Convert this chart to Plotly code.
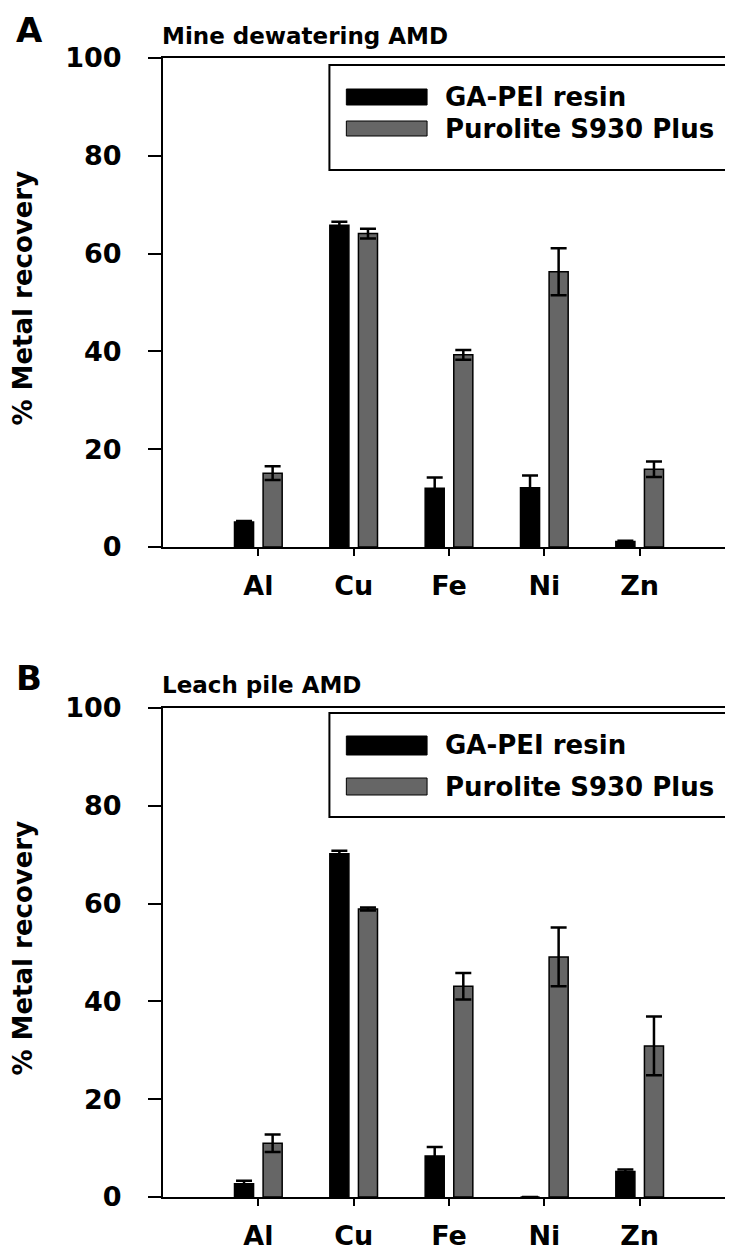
import plotly.graph_objects as go

metals = ["Al", "Cu", "Fe", "Ni", "Zn"]
series_names = ["GA-PEI resin", "Purolite S930 Plus"]

# Panel A: Mine dewatering AMD
a_gapei = [5.1, 65.8, 12.0, 12.1, 1.1]
a_gapei_err = [0.2, 0.7, 2.2, 2.5, 0.2]
a_purolite = [15.1, 64.1, 39.3, 56.3, 15.9]
a_purolite_err = [1.4, 1.0, 1.0, 4.8, 1.6]

# Panel B: Leach pile AMD
b_gapei = [2.7, 70.2, 8.4, 0, 5.2]
b_gapei_err = [0.6, 0.6, 1.8, None, 0.4]
b_purolite = [11.0, 58.9, 43.1, 49.1, 30.9]
b_purolite_err = [1.8, 0.3, 2.7, 6.0, 6.0]

panel_titles = ["Mine dewatering AMD", "Leach pile AMD"]
panel_letters = ["A", "B"]
y_title = "% Metal recovery"
y_ticks = [0, 20, 40, 60, 80, 100]

W, H = 733, 1249
ML, MR, MT, MB = 155, 4, 50, 60
PW = W - ML - MR
PH = H - MT - MB

def px(x):
    return (x - ML) / PW

def py(y):
    return (H - MB - y) / PH

FONT = "DejaVu Sans"
BLACK = "#000000"
GRAY = "#666666"

fig = go.Figure()

panels = [
    ("x", "y", a_gapei, a_gapei_err, a_purolite, a_purolite_err),
    ("x2", "y2", b_gapei, b_gapei_err, b_purolite, b_purolite_err),
]
for xa, ya, g, ge, p, pe in panels:
    fig.add_trace(go.Bar(
        x=metals, y=g, name=series_names[0], xaxis=xa, yaxis=ya,
        marker=dict(color=BLACK, line=dict(color=BLACK, width=1.5)),
        error_y=dict(type="data", array=ge, color=BLACK, thickness=2.5, width=8),
        showlegend=False,
    ))
    fig.add_trace(go.Bar(
        x=metals, y=p, name=series_names[1], xaxis=xa, yaxis=ya,
        marker=dict(color=GRAY, line=dict(color=BLACK, width=1.5)),
        error_y=dict(type="data", array=pe, color=BLACK, thickness=2.5, width=8),
        showlegend=False,
    ))

top_dom = [py(539), 1.0]
bot_dom = [0.0, py(700)]

axis_common_x = dict(
    type="category", range=[-1, 5], showline=True, linecolor=BLACK, linewidth=2,
    mirror=True, ticks="outside", ticklen=7, tickwidth=2, tickcolor=BLACK,
    tickfont=dict(family=FONT, size=27, color=BLACK, weight="bold"),
    ticklabelstandoff=7, showgrid=False, zeroline=False,
)
axis_common_y = dict(
    range=[0, 100], tickvals=y_ticks, showline=True, linecolor=BLACK, linewidth=2,
    mirror=True, ticks="outside", ticklen=13, tickwidth=2, tickcolor=BLACK,
    tickfont=dict(family=FONT, size=27, color=BLACK, weight="bold"),
    ticklabelstandoff=21, showgrid=False, zeroline=False,
)

fig.update_layout(
    width=W, height=H,
    margin=dict(l=ML, r=MR, t=MT, b=MB),
    plot_bgcolor="white", paper_bgcolor="white",
    barmode="group", bargap=0.4, bargroupgap=1/3,
    font=dict(family=FONT, color=BLACK),
    xaxis=dict(axis_common_x, anchor="y", domain=[0, 1]),
    yaxis=dict(axis_common_y, anchor="x", domain=top_dom),
    xaxis2=dict(axis_common_x, anchor="y2", domain=[0, 1]),
    yaxis2=dict(axis_common_y, anchor="x2", domain=bot_dom),
    showlegend=False,
)

annotations = []
shapes = []

panel_layout = [
    # (letter center y, title center y, y-title center y, legend box top, bottom, swatch1 y0,y1, swatch2 y0,y1)
    (22, 28, 290, 57, 162, 81, 97, 113, 128),
    (670, 677, 940, 705, 809, 728, 747, 770, 787),
]
for i, (ly, ty, yty, bt, bb, s1a, s1b, s2a, s2b) in enumerate(panel_layout):
    annotations.append(dict(
        text=panel_letters[i], xref="paper", yref="paper", x=px(21), y=py(ly),
        xanchor="center", yanchor="middle", showarrow=False,
        font=dict(family=FONT, size=34, color=BLACK, weight="bold"),
    ))
    annotations.append(dict(
        text=panel_titles[i], xref="paper", yref="paper", x=px(152), y=py(ty),
        xanchor="left", yanchor="middle", showarrow=False,
        font=dict(family=FONT, size=23, color=BLACK, weight="bold"),
    ))
    annotations.append(dict(
        text=y_title, xref="paper", yref="paper", x=px(15), y=py(yty),
        xanchor="center", yanchor="middle", showarrow=False, textangle=-90,
        font=dict(family=FONT, size=26, color=BLACK, weight="bold"),
    ))
    # legend box
    shapes.append(dict(type="rect", xref="paper", yref="paper",
                       x0=px(322), x1=px(725), y0=py(bb), y1=py(bt),
                       line=dict(color=BLACK, width=2), fillcolor="white", layer="above"))
    shapes.append(dict(type="rect", xref="paper", yref="paper",
                       x0=px(339), x1=px(420), y0=py(s1b), y1=py(s1a),
                       line=dict(color=BLACK, width=1), fillcolor=BLACK, layer="above"))
    shapes.append(dict(type="rect", xref="paper", yref="paper",
                       x0=px(339), x1=px(420), y0=py(s2b), y1=py(s2a),
                       line=dict(color=BLACK, width=1), fillcolor=GRAY, layer="above"))
    for name, sy0, sy1 in [(series_names[0], s1a, s1b), (series_names[1], s2a, s2b)]:
        annotations.append(dict(
            text=name, xref="paper", yref="paper", x=px(436), y=py((sy0 + sy1) / 2),
            xanchor="left", yanchor="middle", showarrow=False,
            font=dict(family=FONT, size=26, color=BLACK, weight="bold"),
        ))

fig.update_layout(annotations=annotations, shapes=shapes)

fig.write_html("out.html")
